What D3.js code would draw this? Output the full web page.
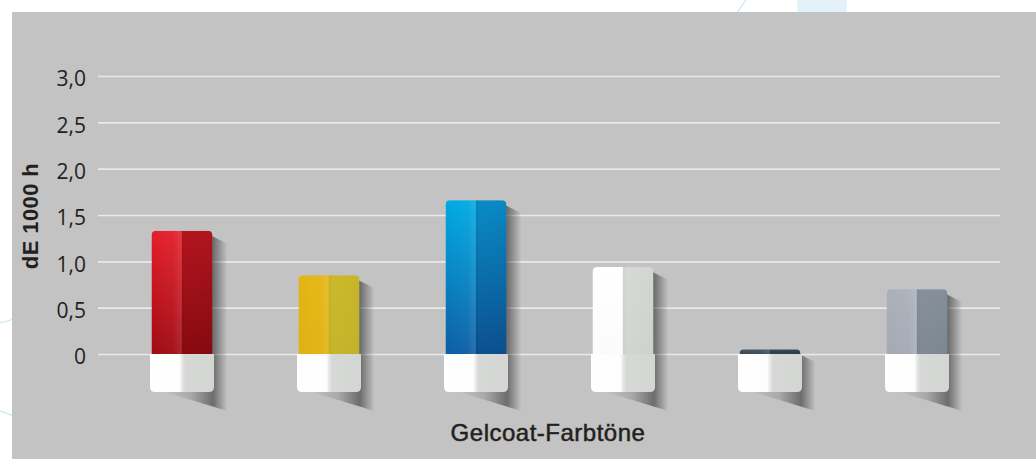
<!DOCTYPE html>
<html>
<head>
<meta charset="utf-8">
<script src="https://cdn.jsdelivr.net/npm/d3@7"></script>
<style>
  html, body { margin: 0; padding: 0; background: #fff; }
  svg { display: block; }
</style>
</head>
<body>
<div id="chart"></div>
<script>
// Data
const categories = ["Rot", "Gelb", "Blau", "Weiß", "Anthrazit", "Grau"];
const values = [1.33, 0.85, 1.66, 0.94, 0.05, 0.70];
const yTicks = [0, 0.5, 1.0, 1.5, 2.0, 2.5, 3.0];
const yTickLabels = ["0", "0,5", "1,0", "1,5", "2,0", "2,5", "3,0"];
const yTitle = "dE 1000 h";
const xTitle = "Gelcoat-Farbtöne";

// colours of each bar: left half top/bottom, right half top/bottom
const palette = [
    ["#e41f2b", "#9f0b13", "#b3151e", "#870a10"],
    ["#e4b512", "#e0b10f", "#cbb92a", "#c6b62a"],
    ["#00aae4", "#0c5ea3", "#0a8bc6", "#0b508f"],
    ["#ffffff", "#fbfbfb", "#d7d9d7", "#d3d5d3"],
    ["#46555f", "#3a4852", "#3a4852", "#2f3d46"],
    ["#aab1ba", "#a3aab3", "#87919c", "#7f8994"]
];

const W = 1036, H = 459;
const svg = d3.select("#chart").append("svg")
    .attr("width", W)
    .attr("height", H);

const defs = svg.append("defs");

// faint decoration on the white border
const deco = svg.append("g").attr("stroke", "#c6e6f4").attr("fill", "none").attr("stroke-width", 1.2);
deco.append("circle").attr("cx", 822).attr("cy", 6).attr("r", 25).attr("fill", "#e3f1f9").attr("stroke", "none");
deco.append("line").attr("x1", 0).attr("y1", 323).attr("x2", 14).attr("y2", 319);
deco.append("line").attr("x1", 0).attr("y1", 411).attr("x2", 14).attr("y2", 416);
deco.append("line").attr("x1", 736).attr("y1", 14).attr("x2", 746).attr("y2", 0);

// grey panel
svg.append("rect")
    .attr("x", 12).attr("y", 12)
    .attr("width", W - 12).attr("height", H - 12)
    .attr("fill", "#c2c3c2");

// scales
const x = d3.scaleBand()
    .domain(categories)
    .range([108.5, 990.5])
    .paddingInner(0.585)
    .paddingOuter(0.2925);

const y = d3.scaleLinear()
    .domain([0, 3])
    .range([354, 76]);

// grid + tick labels
const gridLeft = 98, gridRight = 1000;
const yAxis = svg.append("g")
    .attr("transform", `translate(${gridLeft},0)`)
    .call(d3.axisLeft(y)
        .tickValues(yTicks)
        .tickSize(-(gridRight - gridLeft))
        .tickPadding(12)
        .tickFormat((d, i) => yTickLabels[i]));
yAxis.select(".domain").remove();
yAxis.selectAll(".tick line")
    .attr("stroke", "#e9e9e9")
    .attr("stroke-width", 1.6);
yAxis.selectAll(".tick text")
    .attr("dy", "0.47em")
    .attr("fill", "#231f20")
    .style("font-family", "'Open Sans', sans-serif")
    .style("font-size", "21px");

// gradients
palette.forEach((c, i) => {
    const gl = defs.append("linearGradient").attr("id", "gl" + i)
        .attr("x1", 0).attr("y1", 0).attr("x2", 0).attr("y2", 1);
    gl.append("stop").attr("offset", 0).attr("stop-color", c[0]);
    gl.append("stop").attr("offset", 1).attr("stop-color", c[1]);
    const gr = defs.append("linearGradient").attr("id", "gr" + i)
        .attr("x1", 0).attr("y1", 0).attr("x2", 0).attr("y2", 1);
    gr.append("stop").attr("offset", 0).attr("stop-color", c[2]);
    gr.append("stop").attr("offset", 1).attr("stop-color", c[3]);
});

// soft highlight just left of the split
const hl = defs.append("linearGradient").attr("id", "hl")
    .attr("x1", 0).attr("y1", 0).attr("x2", 1).attr("y2", 0);
hl.append("stop").attr("offset", 0).attr("stop-color", "#fff").attr("stop-opacity", 0);
hl.append("stop").attr("offset", 0.36).attr("stop-color", "#fff").attr("stop-opacity", 0.04);
hl.append("stop").attr("offset", 0.49).attr("stop-color", "#fff").attr("stop-opacity", 0.12);
hl.append("stop").attr("offset", 0.5).attr("stop-color", "#000").attr("stop-opacity", 0.04);
hl.append("stop").attr("offset", 0.56).attr("stop-color", "#000").attr("stop-opacity", 0.0);
hl.append("stop").attr("offset", 1).attr("stop-color", "#000").attr("stop-opacity", 0.02);

// white plinth below zero
const bg = defs.append("linearGradient").attr("id", "base")
    .attr("x1", 0).attr("y1", 0).attr("x2", 1).attr("y2", 0);
bg.append("stop").attr("offset", 0).attr("stop-color", "#ffffff");
bg.append("stop").attr("offset", 0.46).attr("stop-color", "#fdfdfd");
bg.append("stop").attr("offset", 0.5).attr("stop-color", "#e6e7e6");
bg.append("stop").attr("offset", 0.55).attr("stop-color", "#d6d8d6");
bg.append("stop").attr("offset", 1).attr("stop-color", "#d4d6d4");

// drop shadow
const sg = defs.append("linearGradient").attr("id", "shadow")
    .attr("x1", 0).attr("y1", 0).attr("x2", 1).attr("y2", 0);
sg.append("stop").attr("offset", 0).attr("stop-color", "#333").attr("stop-opacity", 0);
sg.append("stop").attr("offset", 0.45).attr("stop-color", "#333").attr("stop-opacity", 0.18);
sg.append("stop").attr("offset", 0.78).attr("stop-color", "#333").attr("stop-opacity", 0.6);
sg.append("stop").attr("offset", 1).attr("stop-color", "#333").attr("stop-opacity", 0);

function topRounded(x0, y0, w, h, r) {
    r = Math.min(r, h);
    return `M${x0},${y0 + h}V${y0 + r}Q${x0},${y0} ${x0 + r},${y0}H${x0 + w - r}Q${x0 + w},${y0} ${x0 + w},${y0 + r}V${y0 + h}Z`;
}
function bottomRounded(x0, y0, w, h, r) {
    return `M${x0},${y0}H${x0 + w}V${y0 + h - r}Q${x0 + w},${y0 + h} ${x0 + w - r},${y0 + h}H${x0 + r}Q${x0},${y0 + h} ${x0},${y0 + h - r}Z`;
}

const baseH = 38, radius = 5;
const bars = svg.append("g").attr("class", "bars")
    .selectAll("g")
    .data(values)
    .join("g");

bars.each(function(v, i) {
    const g = d3.select(this);
    const x0 = x(categories[i]);
    const w = x.bandwidth();
    const x1 = x0 + w;
    const yTop = y(v);
    const y0 = y(0);
    const baseB = y0 + baseH;

    // shadow
    g.append("path")
        .attr("d", `M${x1 - 3},${yTop + 4}L${x1 + 15},${yTop + 13}L${x1 + 15},${baseB + 19}L${x0 + 10},${baseB - 1}L${x0 + 10},${yTop + 4}Z`)
        .attr("fill", "url(#shadow)");

    // plinth
    g.append("path")
        .attr("d", bottomRounded(x0 - 1.5, y0, w + 3, baseH, radius))
        .attr("fill", "url(#base)");

    // coloured column
    const clipId = "clip" + i;
    defs.append("clipPath").attr("id", clipId)
        .append("path").attr("d", topRounded(x0, yTop, w, y0 - yTop, radius));
    const col = g.append("g").attr("clip-path", `url(#${clipId})`);
    col.append("rect")
        .attr("x", x0).attr("y", yTop)
        .attr("width", w / 2 + 0.5).attr("height", y0 - yTop)
        .attr("fill", `url(#gl${i})`);
    col.append("rect")
        .attr("x", x0 + w / 2).attr("y", yTop)
        .attr("width", w / 2).attr("height", y0 - yTop)
        .attr("fill", `url(#gr${i})`);
    col.append("rect")
        .attr("x", x0).attr("y", yTop)
        .attr("width", w).attr("height", y0 - yTop)
        .attr("fill", "url(#hl)");
});

// titles
svg.append("text")
    .attr("transform", `translate(38,216) rotate(-90)`)
    .attr("text-anchor", "middle")
    .attr("fill", "#231f20")
    .style("font-family", "'Liberation Sans', Arial, sans-serif")
    .style("font-weight", "bold")
    .style("font-size", "22px")
    .style("letter-spacing", "0.4px")
    .text(yTitle);

svg.append("text")
    .attr("x", 548)
    .attr("y", 441)
    .attr("text-anchor", "middle")
    .attr("fill", "#231f20")
    .attr("stroke", "#231f20")
    .attr("stroke-width", 0.5)
    .style("font-family", "'Liberation Sans', Arial, sans-serif")
    .style("font-size", "24px")
    .style("letter-spacing", "0.5px")
    .text(xTitle);
</script>
</body>
</html>
